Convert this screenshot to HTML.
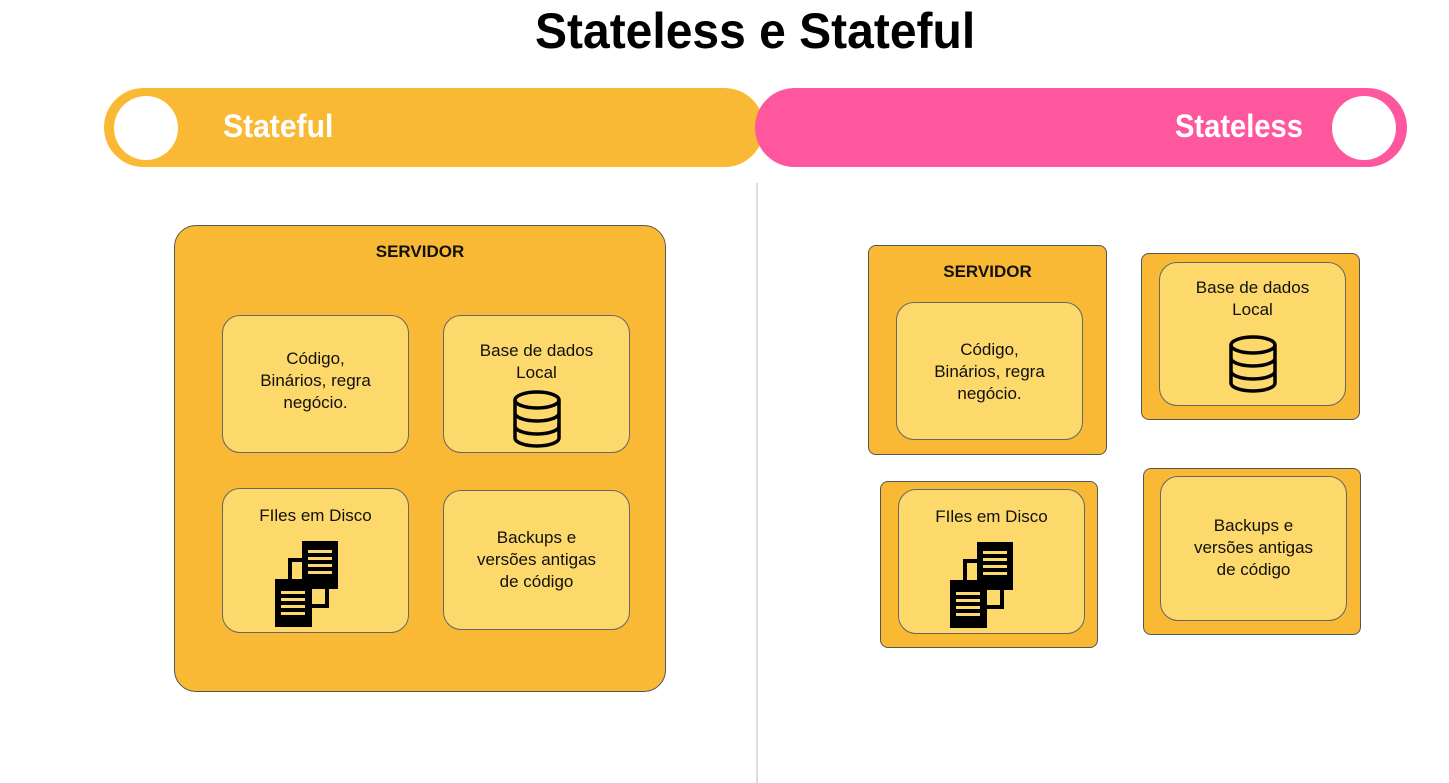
<!DOCTYPE html>
<html><head><meta charset="utf-8"><style>
body{margin:0;width:1449px;height:772px;background:#fff;position:relative;overflow:hidden;font-family:"Liberation Sans",sans-serif}
.a{position:absolute;box-sizing:border-box}
.o{background:#F9B934;border:1.5px solid #555;border-radius:8px}
.i{background:#FDD86A;border:1.5px solid #666;border-radius:18px;text-align:center;font-size:17px;color:#111;line-height:22px}
.t{position:absolute;width:100%;text-align:center;font-weight:bold;font-size:17px;color:#111}
</style></head><body>
<div class="a" style="left:535px;top:2px;width:440px;text-align:left;font:bold 50px 'Liberation Sans',sans-serif;color:#000;white-space:nowrap;transform:scaleX(0.96);transform-origin:0 0">Stateless e Stateful</div>
<div class="a" style="left:104px;top:88px;width:660px;height:79px;background:#F9B934;border-radius:40px"></div>
<div class="a" style="left:755px;top:88px;width:652px;height:79px;background:#FF579E;border-radius:40px"></div>
<div class="a" style="left:114px;top:96px;width:64px;height:64px;background:#fff;border-radius:50%"></div>
<div class="a" style="left:1332px;top:96px;width:64px;height:64px;background:#fff;border-radius:50%"></div>
<div class="a" style="left:223px;top:108px;font:bold 32px 'Liberation Sans',sans-serif;color:#fff;white-space:nowrap;transform:scaleX(0.94);transform-origin:0 0">Stateful</div>
<div class="a" style="left:1175px;top:108px;font:bold 32px 'Liberation Sans',sans-serif;color:#fff;white-space:nowrap;transform:scaleX(0.91);transform-origin:0 0">Stateless</div>
<div class="a" style="left:756px;top:183px;width:2px;height:600px;background:#ddd"></div>

<div class="a o" style="left:174px;top:225px;width:492px;height:467px;border-radius:22px"><div class="t" style="top:16px">SERVIDOR</div></div>
<div class="a i" style="left:222px;top:315px;width:187px;height:138px;padding-top:32px">Código,<br>Binários, regra<br>negócio.</div>
<div class="a i" style="left:443px;top:315px;width:187px;height:138px;padding-top:24px">Base de dados<br>Local</div>
<div class="a i" style="left:222px;top:488px;width:187px;height:145px;padding-top:16px">FIles em Disco</div>
<div class="a i" style="left:443px;top:490px;width:187px;height:140px;padding-top:36px">Backups e<br>versões antigas<br>de código</div>

<div class="a o" style="left:868px;top:245px;width:239px;height:210px"><div class="t" style="top:16px">SERVIDOR</div></div>
<div class="a i" style="left:896px;top:302px;width:187px;height:138px;padding-top:36px">Código,<br>Binários, regra<br>negócio.</div>
<div class="a o" style="left:1141px;top:253px;width:219px;height:167px"></div>
<div class="a i" style="left:1159px;top:262px;width:187px;height:144px;padding-top:14px">Base de dados<br>Local</div>
<div class="a o" style="left:880px;top:481px;width:218px;height:167px"></div>
<div class="a i" style="left:898px;top:489px;width:187px;height:145px;padding-top:16px">FIles em Disco</div>
<div class="a o" style="left:1143px;top:468px;width:218px;height:167px"></div>
<div class="a i" style="left:1160px;top:476px;width:187px;height:145px;padding-top:38px">Backups e<br>versões antigas<br>de código</div>

<svg class="a" style="left:0;top:0" width="1449" height="772">
<defs>
<g id="db" fill="none" stroke="#000" stroke-width="3.5">
<ellipse cx="0" cy="0" rx="22" ry="8"/>
<path d="M-22 0V38A22 8 0 0 0 22 38V0M-22 13A22 8 0 0 0 22 13M-22 26A22 8 0 0 0 22 26"/>
</g>
<g id="f">
<rect x="15" y="19" width="37" height="46" fill="#FDD86A" stroke="#000" stroke-width="4"/>
<rect x="27" y="0" width="36" height="48" fill="#000"/>
<rect x="33" y="9" width="24" height="3" fill="#FDD86A"/><rect x="33" y="16" width="24" height="3" fill="#FDD86A"/><rect x="33" y="23" width="24" height="3" fill="#FDD86A"/><rect x="33" y="30" width="24" height="3" fill="#FDD86A"/>
<path d="M15 19H27M15 19V38" stroke="#000" stroke-width="4"/>
<rect x="0" y="38" width="37" height="48" fill="#000"/>
<rect x="6" y="50" width="24" height="3" fill="#FDD86A"/><rect x="6" y="57" width="24" height="3" fill="#FDD86A"/><rect x="6" y="64" width="24" height="3" fill="#FDD86A"/><rect x="6" y="71" width="24" height="3" fill="#FDD86A"/>
</g>
</defs>
<use href="#db" x="537" y="400"/>
<use href="#db" x="1253" y="345"/>
<use href="#f" x="275" y="541"/>
<use href="#f" x="950" y="542"/>
</svg>
</body></html>
